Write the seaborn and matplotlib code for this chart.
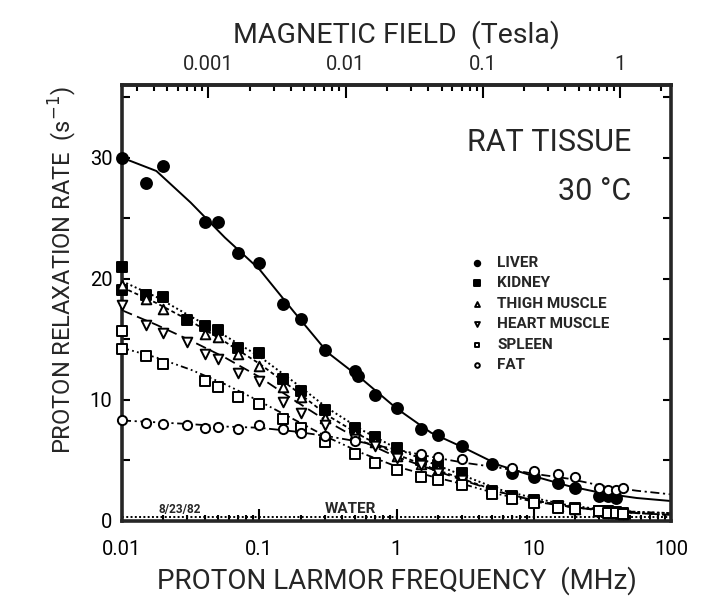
import numpy as np
import pandas as pd
import matplotlib
matplotlib.use("Agg")
import matplotlib.pyplot as plt
import seaborn as sns
from matplotlib.ticker import LogLocator, FixedLocator, NullFormatter, MultipleLocator

# ---------------- data ----------------
liver_f = [0.01, 0.015, 0.02, 0.04, 0.05, 0.07, 0.1, 0.15, 0.2, 0.3, 0.5, 0.52,
           0.7, 1.0, 1.5, 2, 3, 5, 7, 10, 15, 20, 30, 35, 40]
liver_r = [30.0, 27.9, 29.3, 24.7, 24.7, 22.1, 21.3, 17.9, 16.7, 14.1, 12.4, 12.0,
           10.4, 9.3, 7.6, 7.1, 6.2, 4.7, 4.0, 3.6, 3.1, 2.7, 2.1, 2.1, 1.9]

kidney_f = [0.01, 0.01, 0.015, 0.02, 0.03, 0.04, 0.05, 0.07, 0.1, 0.15, 0.2, 0.3,
            0.5, 0.7, 1.0, 1.5, 2, 3, 5, 7, 10, 15, 20, 30, 35, 40, 45]
kidney_r = [21.0, 19.1, 18.7, 18.5, 16.6, 16.1, 15.8, 14.3, 13.9, 11.7, 10.7, 9.2,
            7.7, 6.9, 6.0, 5.0, 4.6, 4.0, 2.5, 2.1, 1.7, 1.2, 1.1, 0.8, 0.8, 0.75, 0.7]

thigh_f = [0.01, 0.015, 0.02, 0.04, 0.05, 0.07, 0.1, 0.15, 0.2, 0.3, 0.5, 0.7,
           1.0, 1.5, 2, 3, 5, 7, 10, 15, 20, 30, 35, 40, 45]
thigh_r = [19.5, 18.3, 17.5, 15.4, 15.2, 13.8, 12.8, 11.1, 10.2, 8.5, 7.2, 6.5,
           5.4, 4.7, 4.3, 3.6, 2.3, 1.9, 1.6, 1.2, 1.0, 0.8, 0.7, 0.7, 0.6]

heart_f = [0.01, 0.015, 0.02, 0.03, 0.04, 0.05, 0.07, 0.1, 0.15, 0.2, 0.3, 0.5,
           0.7, 1.0, 1.5, 2, 3, 5, 7, 10, 15, 20, 30, 35, 40, 45]
heart_r = [17.8, 16.2, 15.5, 14.8, 13.8, 13.4, 12.2, 11.6, 9.8, 8.9, 7.9, 6.8,
           6.2, 5.2, 4.6, 4.0, 3.4, 2.4, 2.0, 1.6, 1.2, 1.0, 0.8, 0.7, 0.7, 0.6]

spleen_f = [0.01, 0.01, 0.015, 0.02, 0.04, 0.05, 0.07, 0.1, 0.15, 0.2, 0.3, 0.5,
            0.7, 1.0, 1.5, 2, 3, 5, 7, 10, 15, 20, 30, 35, 40, 45]
spleen_r = [15.7, 14.2, 13.6, 13.0, 11.6, 11.1, 10.2, 9.7, 8.4, 7.7, 6.5, 5.5,
            4.8, 4.2, 3.6, 3.4, 3.0, 2.2, 1.8, 1.5, 1.1, 1.0, 0.8, 0.7, 0.7, 0.6]

fat_f = [0.01, 0.015, 0.02, 0.03, 0.04, 0.05, 0.07, 0.1, 0.15, 0.2, 0.3, 0.5,
         1.5, 2, 3, 7, 10, 15, 20, 30, 35, 40, 45]
fat_r = [8.3, 8.1, 8.0, 7.9, 7.7, 7.8, 7.6, 7.9, 7.6, 7.3, 7.0, 6.6,
         5.5, 5.3, 5.1, 4.4, 4.1, 3.9, 3.6, 2.7, 2.6, 2.6, 2.7]

# fitted curves at quarter-decade steps
curve_f = [0.01, 0.0178, 0.0316, 0.0562, 0.1, 0.178, 0.316, 0.562, 1.0,
           1.78, 3.16, 5.62, 10, 17.8, 31.6, 56.2, 100]
liver_fit  = [30.0, 28.9, 26.3, 23.4, 20.8, 17.3, 13.9, 11.7, 9.3,
              7.3, 6.0, 4.6, 3.7, 2.9, 2.3, 1.9, 1.65]
kidney_fit = [19.8, 18.5, 16.9, 15.3, 13.6, 11.5, 9.3, 7.5, 6.0,
              4.8, 3.7, 2.6, 1.9, 1.3, 0.95, 0.75, 0.65]
thigh_fit  = [19.3, 18.0, 16.5, 14.8, 13.0, 10.9, 8.7, 7.0, 5.5,
              4.4, 3.4, 2.4, 1.7, 1.2, 0.85, 0.65, 0.5]
heart_fit  = [17.4, 16.2, 14.9, 13.5, 11.9, 10.0, 8.2, 6.6, 5.3,
              4.3, 3.3, 2.4, 1.7, 1.2, 0.85, 0.65, 0.5]
spleen_fit = [14.3, 13.5, 12.5, 11.3, 9.9, 8.4, 6.9, 5.6, 4.5,
              3.7, 3.0, 2.2, 1.6, 1.2, 0.9, 0.75, 0.65]
fat_fit    = [8.3, 8.15, 8.0, 7.8, 7.7, 7.4, 7.0, 6.5, 5.9,
              5.3, 4.8, 4.4, 3.9, 3.5, 2.9, 2.5, 2.2]

water_f = [0.01, 100]
water_r = [0.35, 0.35]

legend_labels = ["LIVER", "KIDNEY", "THIGH MUSCLE", "HEART MUSCLE", "SPLEEN", "FAT"]
x_ticks = [0.01, 0.1, 1, 10, 100]
x_ticklabels = ["0.01", "0.1", "1", "10", "100"]
b_ticks = [0.001, 0.01, 0.1, 1]
b_ticklabels = ["0.001", "0.01", "0.1", "1"]
y_ticks = [0, 10, 20, 30]
GAMMA = 42.58  # MHz per Tesla

# ---------------- style ----------------
sns.set_theme(style="ticks")
FONT = ["Roboto", "DejaVu Sans"]
plt.rcParams["font.family"] = FONT
plt.rcParams["axes.linewidth"] = 2.6

fig = plt.figure(figsize=(7.19, 6.05), dpi=100)
ax = fig.add_axes([122 / 719, 1 - 521 / 605, 549 / 719, 436 / 605])
ax.set_xscale("log")
ax.set_xlim(0.01, 100)
ax.set_ylim(0, 36)

# fitted curves
line_specs = [
    (liver_fit, "-", 1.4),
    (kidney_fit, (0, (1, 1.4)), 1.4),
    (thigh_fit, (0, (2.2, 1.6)), 1.3),
    (heart_fit, (0, (6, 3)), 1.3),
    (spleen_fit, (0, (4, 1.8, 1, 1.8, 1, 1.8)), 1.3),
    (fat_fit, (0, (5, 2, 1.2, 2)), 1.3),
]
for vals, ls, lw in line_specs:
    sns.lineplot(x=curve_f, y=vals, ax=ax, color="black", linestyle=ls,
                 linewidth=lw, sort=False, zorder=2)

sns.lineplot(x=water_f, y=water_r, ax=ax, color="black", linestyle=(0, (1, 1.2)),
             linewidth=1.4, zorder=2)

# data points
series = [
    (liver_f, liver_r, "o", "black", 62),
    (kidney_f, kidney_r, "s", "black", 52),
    (thigh_f, thigh_r, "^", "white", 48),
    (heart_f, heart_r, "v", "white", 48),
    (spleen_f, spleen_r, "s", "white", 44),
    (fat_f, fat_r, "o", "white", 44),
]
for (fx, ry, mk, fc, sz), lab in zip(series, legend_labels):
    sns.scatterplot(x=fx, y=ry, ax=ax, marker=mk, s=sz, color=fc,
                    edgecolor="black", linewidth=1.4, zorder=3, label=lab,
                    clip_on=False)

# axes ticks
ax.xaxis.set_major_locator(FixedLocator(x_ticks))
ax.set_xticklabels(x_ticklabels)
ax.xaxis.set_minor_locator(LogLocator(base=10, subs=np.arange(2, 10)))
ax.xaxis.set_minor_formatter(NullFormatter())
ax.yaxis.set_major_locator(FixedLocator(y_ticks))
ax.yaxis.set_minor_locator(MultipleLocator(5))
ax.tick_params(axis="both", which="both", direction="in", color="black",
               width=1.5, labelsize=14.5, labelcolor="black")
ax.tick_params(axis="x", which="major", length=9, pad=14, top=False)
ax.tick_params(axis="x", which="minor", length=4.5, top=False)
ax.tick_params(axis="y", which="major", length=6, pad=7, right=True)
ax.tick_params(axis="y", which="minor", length=6, right=True)
for lab in ax.get_xticklabels() + ax.get_yticklabels():
    lab.set_family(FONT)

# top axis: magnetic field
secax = ax.secondary_xaxis("top", functions=(lambda f: f / GAMMA, lambda b: b * GAMMA))
secax.xaxis.set_major_locator(FixedLocator(b_ticks))
secax.set_xticklabels(b_ticklabels)
secax.xaxis.set_minor_locator(LogLocator(base=10, subs=np.arange(2, 10)))
secax.xaxis.set_minor_formatter(NullFormatter())
secax.tick_params(which="both", direction="in", width=1.5, labelsize=14.5, color="black")
secax.tick_params(which="major", length=9, pad=8)
secax.tick_params(which="minor", length=4.5)
secax.spines["top"].set_linewidth(2.6)
secax.set_xlabel("MAGNETIC FIELD  (Tesla)", fontsize=20.5, labelpad=9, family=FONT)

ax.set_xlabel("PROTON LARMOR FREQUENCY  (MHz)", fontsize=20, labelpad=5, family=FONT)
ax.set_ylabel("PROTON RELAXATION RATE  (s$^{-1}$)", fontsize=17, family=FONT)
ax.yaxis.set_label_coords(-0.079, 0.575)

# annotations
ax.text(0.927, 0.869, "RAT TISSUE", transform=ax.transAxes, ha="right", va="center",
        fontsize=22, family=FONT)
ax.text(0.927, 0.755, "30 °C", transform=ax.transAxes, ha="right", va="center",
        fontsize=22, family=FONT)
ax.text(0.0265, 0.4, "8/23/82", ha="center", va="bottom", fontsize=8.5,
        fontweight="bold", family=FONT)
ax.text(0.46, 0.4, "WATER", ha="center", va="bottom", fontsize=11,
        fontweight="bold", family=FONT)

# legend
handles, labels = ax.get_legend_handles_labels()
pairs = [(h, l) for h, l in zip(handles, labels) if l in legend_labels]
leg = ax.legend([p[0] for p in pairs], [p[1] for p in pairs], loc="upper left",
                bbox_to_anchor=(0.636, 0.608), frameon=False, borderpad=0,
                borderaxespad=0, handlelength=0.8, handletextpad=0.9,
                labelspacing=0.42, markerscale=0.5,
                prop={"size": 11, "weight": "bold", "family": FONT})

fig.savefig("out.png", dpi=100, facecolor="white")
